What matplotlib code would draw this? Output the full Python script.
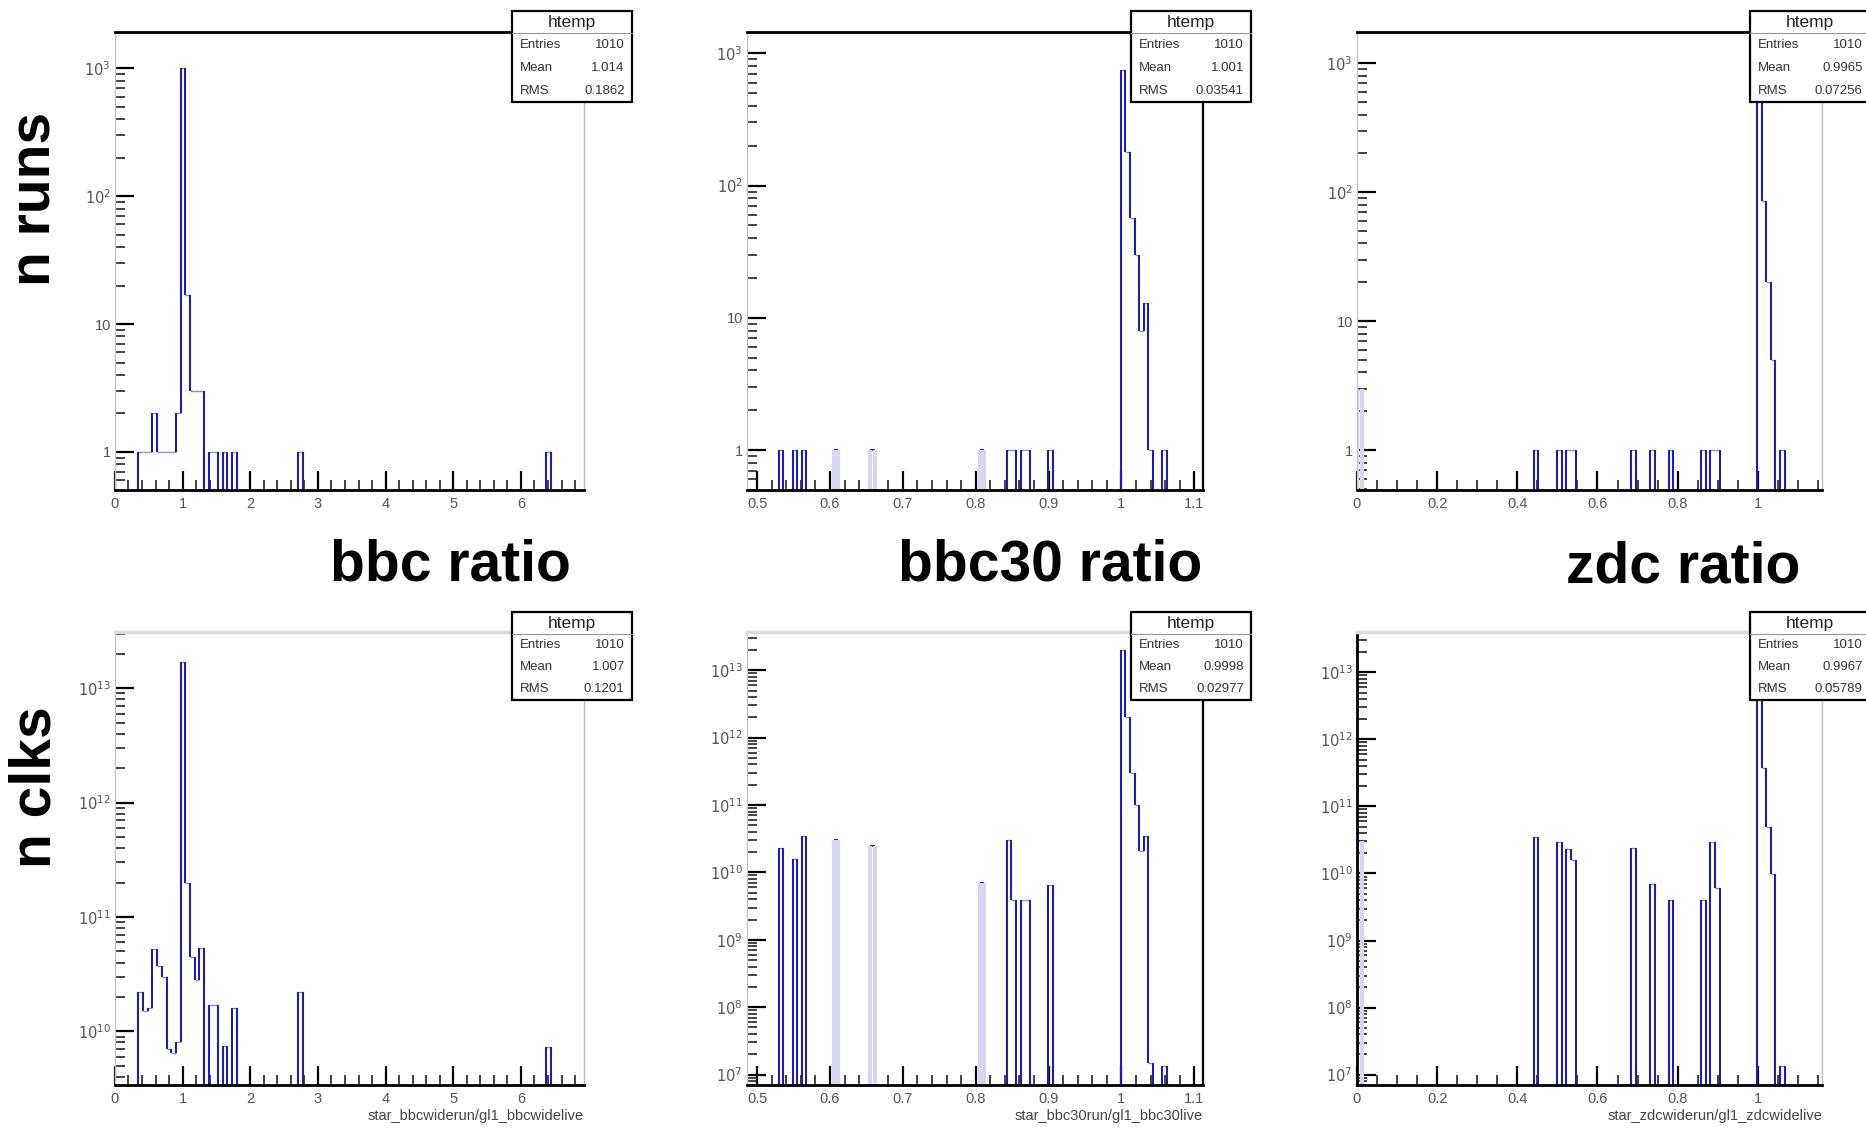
import matplotlib
matplotlib.use("Agg")
import matplotlib.pyplot as plt
import matplotlib.ticker as mticker
from matplotlib.patches import Rectangle
from matplotlib.lines import Line2D
import numpy as np

plt.rcParams['font.family'] = ['Liberation Sans', 'DejaVu Sans']

NBINS = 100

# x ranges of the three htemp histograms
bbc_range = (0.0, 6.93)
bbc30_range = (0.486, 1.112)
zdc_range = (0.0, 1.16)

# bbc ratio: bin centres, runs and clocks per bin
bbc_x = [0.381, 0.451, 0.520, 0.589, 0.658, 0.728, 0.797, 0.866, 0.936, 1.005,
         1.074, 1.144, 1.213, 1.282, 1.421, 1.490, 1.628, 1.767, 2.737, 6.410]
bbc_runs = [1, 1, 1, 2, 1, 1, 1, 1, 2, 1000, 17, 3, 3, 3, 1, 1, 1, 1, 1, 1]
bbc_clks = [2.2e10, 1.5e10, 1.6e10, 5.3e10, 3.7e10, 3.0e10, 7e9, 6.5e9, 8e9, 1.7e13,
            2e11, 4.5e10, 2.8e10, 5.4e10, 1.7e10, 1.7e10, 7.5e9, 1.6e10, 2.2e10, 7.3e9]
bbc_faint = []

# bbc30 ratio
bbc30_x = [0.5330, 0.5517, 0.5643, 0.6082, 0.6582, 0.8085, 0.8464, 0.8526, 0.8652,
           0.8714, 0.9027, 1.0025, 1.0088, 1.0150, 1.0213, 1.0276, 1.0338, 1.0401, 1.0589]
bbc30_runs = [1, 1, 1, 1, 1, 1, 1, 1, 1, 1, 1, 750, 180, 57, 30, 8, 13, 1, 1]
bbc30_clks = [2.3e10, 1.6e10, 3.5e10, 3.0e10, 2.5e10, 7e9, 3.0e10, 3.9e9, 3.9e9,
              3.9e9, 6.5e9, 2e13, 2e12, 3e11, 1e11, 2.1e10, 3.5e10, 1.5e7, 1.35e7]
bbc30_faint = [0.6082, 0.6582, 0.8085]

# zdc ratio
zdc_x = [0.0058, 0.4466, 0.5046, 0.5278, 0.5394, 0.6902, 0.7366, 0.7830, 0.8642,
         0.8874, 0.8990, 1.0034, 1.0150, 1.0266, 1.0382, 1.0614]
zdc_runs = [3, 1, 1, 1, 1, 1, 1, 1, 1, 1, 1, 850, 86, 20, 5, 1]
zdc_clks = [3e10, 3.5e10, 2.9e10, 2.3e10, 1.6e10, 2.4e10, 6.9e9, 4e9, 4e9,
            2.9e10, 6.1e9, 2e13, 3.8e11, 5e10, 9.8e9, 1.35e7]
zdc_faint = [0.0058]

# stats boxes: entries, mean, rms
stats = {
    "bbc_runs": ("1010", "1.014", "0.1862"),
    "bbc30_runs": ("1010", "1.001", "0.03541"),
    "zdc_runs": ("1010", "0.9965", "0.07256"),
    "bbc_clks": ("1010", "1.007", "0.1201"),
    "bbc30_clks": ("1010", "0.9998", "0.02977"),
    "zdc_clks": ("1010", "0.9967", "0.05789"),
}

DARK = '#1f1fa6'
LIGHT = '#8a8ad2'
PALE = '#d6d6f0'


def draw_hist(ax, xr, centers, counts, faint, floor):
    w = (xr[1] - xr[0]) / NBINS
    edges = xr[0] + w * np.arange(NBINS + 1)
    vals = np.zeros(NBINS)
    pale = np.zeros(NBINS, bool)
    for c, n in zip(centers, counts):
        k = int((c - xr[0]) / w)
        vals[k] = n
        if c in faint:
            pale[k] = True
    nz = vals > 0
    ax.hlines(vals[nz & ~pale], edges[:-1][nz & ~pale], edges[1:][nz & ~pale],
              colors=LIGHT, lw=1.0)
    ax.hlines(vals[pale], edges[:-1][pale], edges[1:][pale], colors=DARK, lw=1.4)
    left = np.r_[0, vals]
    right = np.r_[vals, 0]
    lp = np.r_[False, pale]
    rp = np.r_[pale, False]
    hi = np.maximum(left, right)
    lo = np.maximum(np.minimum(left, right), floor * 0.5)
    is_pale = np.where(left >= right, lp, rp)
    m = hi > 0
    ax.vlines(edges[m & ~is_pale], lo[m & ~is_pale], hi[m & ~is_pale], colors=DARK, lw=1.5)
    ax.vlines(edges[m & is_pale], lo[m & is_pale], hi[m & is_pale], colors=PALE, lw=3)


def ylab(v, pos):
    e = int(round(np.log10(v)))
    if e == 0:
        return "1"
    if e == 1:
        return "10"
    return r"$10^{%d}$" % e


def xlab(v, pos):
    return f"{round(v, 3) + 0.0:g}"


fig = plt.figure(figsize=(18.66, 11.36), dpi=100)

lefts = [0.0616, 0.4003, 0.7272]
widths = [0.2513, 0.2444, 0.2492]
row_bottom = [0.5687, 0.0449]
row_height = [0.4032, 0.3988]

panels = [
    (0, 0, bbc_range, bbc_x, bbc_runs, bbc_faint, (0.505, 1920), "bbc_runs", 1.0, 0.2, ''),
    (0, 1, bbc30_range, bbc30_x, bbc30_runs, bbc30_faint, (0.5, 1450), "bbc30_runs", 0.1, 0.02, ''),
    (0, 2, zdc_range, zdc_x, zdc_runs, zdc_faint, (0.49, 1750), "zdc_runs", 0.2, 0.05, ''),
    (1, 0, bbc_range, bbc_x, bbc_clks, bbc_faint, (3.4e9, 3.1e13), "bbc_clks", 1.0, 0.2,
     'star_bbcwiderun/gl1_bbcwidelive'),
    (1, 1, bbc30_range, bbc30_x, bbc30_clks, bbc30_faint, (7e6, 3.7e13), "bbc30_clks", 0.1, 0.02,
     'star_bbc30run/gl1_bbc30live'),
    (1, 2, zdc_range, zdc_x, zdc_clks, zdc_faint, (7e6, 4e13), "zdc_clks", 0.2, 0.05,
     'star_zdcwiderun/gl1_zdcwidelive'),
]

for row, col, xr, cx, cn, faint, ylim, key, major, minor, xlabel in panels:
    ax = fig.add_axes([lefts[col], row_bottom[row], widths[col], row_height[row]])
    ax.set_yscale('log')
    ax.set_xlim(*xr)
    ax.set_ylim(*ylim)
    draw_hist(ax, xr, cx, cn, faint, ylim[0])

    # only ticks inside the visible range
    e0 = int(np.ceil(np.log10(ylim[0])))
    e1 = int(np.floor(np.log10(ylim[1])))
    decades = [10.0 ** e for e in range(e0, e1 + 1)]
    subs = [s * 10.0 ** e for e in range(e0 - 1, e1 + 1) for s in range(2, 10)]
    subs = [v for v in subs if ylim[0] <= v <= ylim[1]]
    xmaj = np.arange(np.ceil(xr[0] / major - 1e-9), np.floor(xr[1] / major + 1e-9) + 1) * major
    xmin_t = np.arange(np.ceil(xr[0] / minor - 1e-9), np.floor(xr[1] / minor + 1e-9) + 1) * minor

    ax.xaxis.set_major_locator(mticker.FixedLocator(xmaj))
    ax.xaxis.set_minor_locator(mticker.FixedLocator(xmin_t))
    ax.xaxis.set_major_formatter(mticker.FuncFormatter(xlab))
    ax.yaxis.set_major_locator(mticker.FixedLocator(decades))
    ax.yaxis.set_minor_locator(mticker.FixedLocator(subs))
    ax.yaxis.set_major_formatter(mticker.FuncFormatter(ylab))
    ax.yaxis.set_minor_formatter(mticker.NullFormatter())
    ax.tick_params(which='major', direction='in', length=14, width=1.6, color='black',
                   labelsize=10.5, labelcolor='#555555', pad=5, top=False, right=False)
    ax.tick_params(which='minor', direction='in', length=7, width=1.2, color='#222222',
                   top=False, right=False)
    ax.tick_params(axis='y', which='major', labelsize=10.5, pad=3)

    ax.spines['bottom'].set_linewidth(2)
    ax.spines['bottom'].set_color('black')
    if col == 2 and row == 1:
        ax.spines['left'].set_color('black')
        ax.spines['left'].set_linewidth(2)
    else:
        ax.spines['left'].set_color('#c8c8c8')
        ax.spines['left'].set_linewidth(1)
    if row == 0:
        ax.spines['top'].set_color('black')
        ax.spines['top'].set_linewidth(2)
    else:
        ax.spines['top'].set_color('#dcdcdc')
        ax.spines['top'].set_linewidth(2.5)
    if col == 1:
        ax.spines['right'].set_color('black')
        ax.spines['right'].set_linewidth(1.6)
    else:
        ax.spines['right'].set_color('#bdbdbd')
        ax.spines['right'].set_linewidth(1)

    if xlabel:
        ax.set_xlabel(xlabel, loc='right', fontsize=10.5, color='#444444', labelpad=2)

    # ROOT stats box
    bx0 = lefts[col] + widths[col] - 0.0384
    bw = 0.0643
    if row == 0:
        by0, by1 = 0.9102, 0.9903
    else:
        by0, by1 = 0.3838, 0.4613
    fig.add_artist(Rectangle((bx0, by0), bw, by1 - by0, transform=fig.transFigure,
                             facecolor='white', edgecolor='black', lw=1.6, zorder=5))
    ty = by1 - 0.0195
    fig.add_artist(Line2D([bx0, bx0 + bw], [ty, ty], transform=fig.transFigure,
                          color='#999999', lw=0.8, zorder=6))
    fig.text(bx0 + bw / 2, (ty + by1) / 2, "htemp", ha='center', va='center',
             fontsize=12.5, color='#222222', zorder=7)
    rows = ["Entries", "Mean", "RMS"]
    rh = (ty - by0) / 3
    for i, (lab, val) in enumerate(zip(rows, stats[key])):
        yy = ty - rh * (i + 0.5)
        fig.text(bx0 + 0.004, yy, lab, ha='left', va='center', fontsize=9.5,
                 color='#333333', zorder=7)
        fig.text(bx0 + bw - 0.004, yy, val, ha='right', va='center', fontsize=9.5,
                 color='#333333', zorder=7)

# big slide labels
fig.text(0.2414, 0.489, "bbc ratio", ha='center', va='baseline', fontsize=41, fontweight='bold')
fig.text(0.5628, 0.489, "bbc30 ratio", ha='center', va='baseline', fontsize=41, fontweight='bold')
fig.text(0.9018, 0.487, "zdc ratio", ha='center', va='baseline', fontsize=41, fontweight='bold')
fig.text(0.019, 0.825, "n runs", ha='center', va='center', rotation=90, fontsize=41, fontweight='bold')
fig.text(0.019, 0.307, "n clks", ha='center', va='center', rotation=90, fontsize=41, fontweight='bold')

fig.savefig('out.png', dpi=100)
